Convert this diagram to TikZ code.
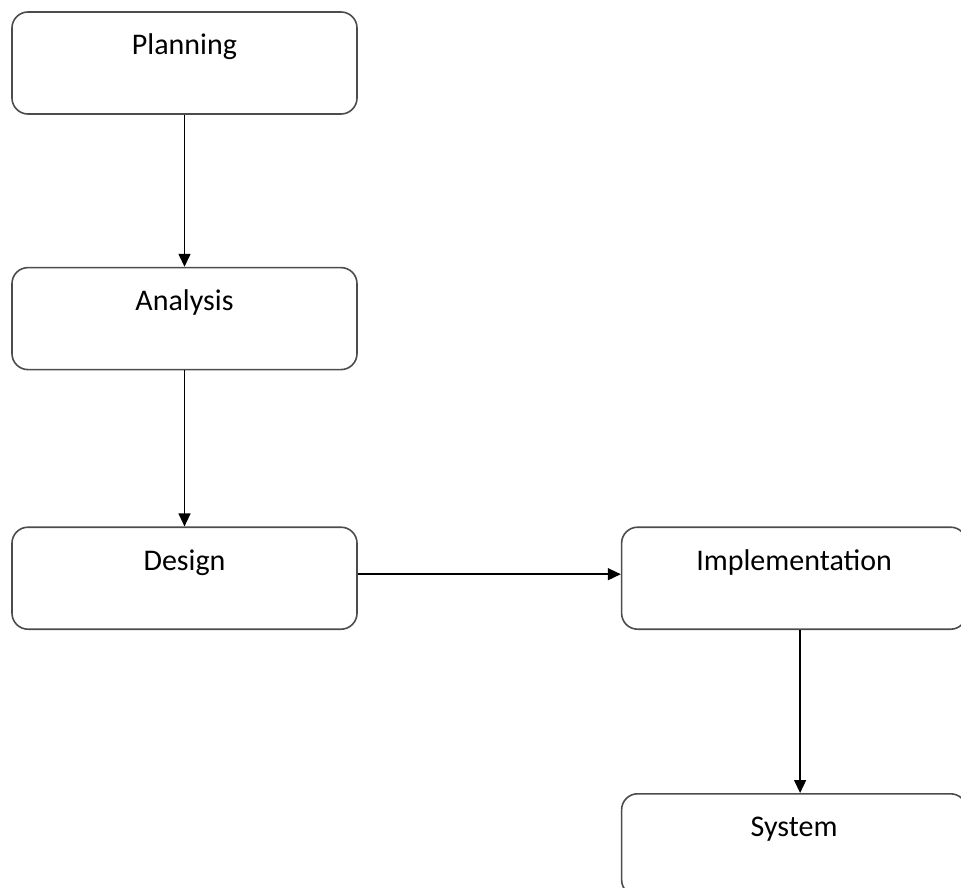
\documentclass[tikz,border=0pt]{standalone}
\usepackage{fontspec}
\setmainfont{Carlito}
\usetikzlibrary{positioning, arrows.meta}

\begin{document}
\begin{tikzpicture}[x=1pt, y=1pt,
StageBox/.style={draw=black!70, line width=1.6pt, rounded corners=16pt,
                minimum width=345pt, minimum height=102pt, inner sep=0pt,
                text width=345pt, align=center, text height=43pt, text depth=59pt,
                font=\fontsize{30}{35}\selectfont},
FlowArrow/.style={line width=1.5pt, -{Triangle[length=13pt, width=12pt]}},]
\useasboundingbox (0,0) rectangle (961,-888);
\node [StageBox] (planning) at (184.5,-63) {Planning};
\node [StageBox, below=152pt of planning] (analysis) {Analysis};
\node [StageBox, below=156pt of analysis] (design) {Design};
\node [StageBox, right=263pt of design] (implementation) {Implementation};
\node [StageBox, below=163pt of implementation] (system) {System};
\draw [FlowArrow] (planning) -- (analysis);
\draw [FlowArrow] (analysis) -- (design);
\draw [FlowArrow] ([yshift=4pt]design.east) -- ([yshift=4pt]implementation.west);
\draw [FlowArrow] ([xshift=6pt]implementation.south) -- ([xshift=6pt]system.north);
\end{tikzpicture}
\end{document}
